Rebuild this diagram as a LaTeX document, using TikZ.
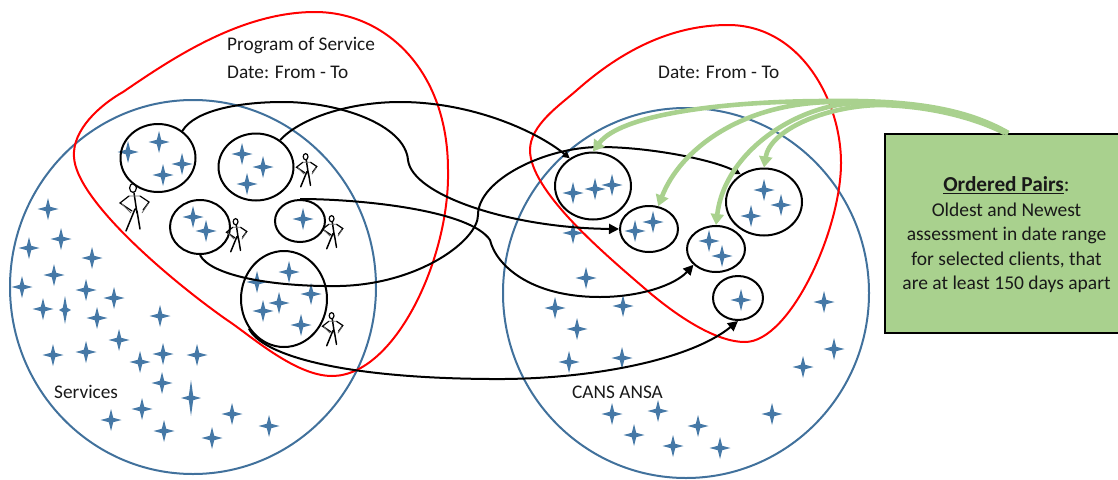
\documentclass[tikz,border=0pt]{standalone}
\usepackage{fontspec}
\setmainfont{Carlito}
\usetikzlibrary{arrows.meta,shapes.geometric}
\definecolor{setblue}{HTML}{41719C}
\definecolor{starblue}{HTML}{4578A6}
\definecolor{pairgreen}{HTML}{A9D18E}
\newcommand{\starat}[4]{\fill[starblue] (#1,#2-#4) -- (#1+2.2,#2-2.2) -- (#1+#3,#2) -- (#1+2.2,#2+2.2) -- (#1,#2+#4) -- (#1-2.2,#2+2.2) -- (#1-#3,#2) -- (#1-2.2,#2-2.2) -- cycle;}
\tikzset{
  setring/.style={draw=setblue,line width=2pt,ellipse,inner sep=0pt},
  redline/.style={draw=red,line width=2pt},
  group/.style={draw=black,line width=2pt,ellipse,inner sep=0pt},
  link/.style={draw=black,line width=2pt},
  bigtip/.style={-{Triangle[length=10pt,width=10pt]}},
  smalltip/.style={-{Triangle[length=7pt,width=7pt]}},
  greenlink/.style={draw=pairgreen,line width=4.6pt,-{Triangle[length=11pt,width=13pt]}},
  label/.style={font=\fontsize{19.3}{23}\selectfont,anchor=west,inner sep=0pt,text=black!90},
  person/.pic={
    \draw[black,line width=1.2pt,line cap=round] (-2,-19) circle[x radius=3.4,y radius=4.4];
    \draw[black,line width=1.5pt,line cap=round] (-1,-14) -- (2,6) (0,2) -- (-9,24) (2,4) -- (5,22);
    \draw[black,line width=1.2pt,line cap=round] (-6,-11) -- (-15,-4) -- (-3,4);
    \draw[black,line width=1.2pt,line cap=round] (5,-11) -- (14,-5) -- (8,3);
    \draw[black!60,line width=.8pt] (-6,-11) -- (5,-11) (-13,-3) -- (-4,6) (13,-3) -- (7,6);
  }
}
\begin{document}
\begin{tikzpicture}[x=1pt,y=-1pt]
\useasboundingbox (0,0) rectangle (1118,479);
% large sets
\node[setring,minimum width=366pt,minimum height=374pt] (services) at (193,287) {};
\node[setring,minimum width=366pt,minimum height=370pt] (cans) at (686,293) {};
% stars outside groups, left
\foreach \p/\q in {48/209,61/239,29/248,92/258,54/275,22/287,86/290,114/298,43/309,97/318,160/316,119/340,53/355,86/352,140/362,163/354,197/355,162/383,111/420,142/409,232/414,269/426,164/431,212/438}{\starat{\p}{\q}{10.5}{11}}
\starat{65}{310}{6}{14}
\starat{191}{398}{10}{18}
% stars outside groups, right
\foreach \p/\q in {573/233,586/278,555/308,623/306,577/329,569/362,622/358,824/302,834/349,803/367,612/414,658/411,634/435,698/426,673/446,720/448,772/414}{\starat{\p}{\q}{10.5}{11}}
% stars in groups, left
\foreach \p/\q in {128/152,159/142,182/164,163/175,242/154,263/167,247/184,193/217,206/231,303/219,257/282,289/272,311/294,279/303,263/311,301/325}{\starat{\p}{\q}{10.5}{11}}
% stars in groups, right
\foreach \p/\q in {573/193,595/189,612/185,635/231,653/222,709/241,722/256,764/190,781/205,751/216,741/300}{\starat{\p}{\q}{10.5}{11}}
% red regions
\draw[redline] (74,157) .. controls (72,130) and (100,105) .. (123,92) .. controls (170,60) and (240,12) .. (315,12) .. controls (385,12) and (448,70) .. (448,170) .. controls (450,258) and (395,376) .. (332,376) .. controls (295,376) and (250,335) .. (227,320) .. controls (170,280) and (76,200) .. (74,157) -- cycle;
\draw[redline] (530,150) .. controls (530,125) and (560,105) .. (577,90) .. controls (620,52) and (670,25) .. (728,25) .. controls (800,25) and (841,100) .. (841,163) .. controls (841,230) and (790,342) .. (745,342) .. controls (715,342) and (675,315) .. (643,287) .. controls (600,250) and (530,190) .. (530,150) -- cycle;
% groups
\node[group,minimum width=75pt,minimum height=68pt] (ga) at (158,158) {};
\node[group,minimum width=75pt,minimum height=67pt] (gb) at (256,167) {};
\node[group,minimum width=60pt,minimum height=54pt] (gc) at (200,227) {};
\node[group,minimum width=50pt,minimum height=42pt] (gd) at (300,221) {};
\node[group,minimum width=86pt,minimum height=96pt] (ge) at (284,299) {};
\node[group,minimum width=76pt,minimum height=67pt] (gf) at (593,186) {};
\node[group,minimum width=58pt,minimum height=46pt] (gg) at (649,229) {};
\node[group,minimum width=58pt,minimum height=46pt] (gh) at (716,249) {};
\node[group,minimum width=76pt,minimum height=67pt] (gi) at (764,202) {};
\node[group,minimum width=50pt,minimum height=44pt] (gj) at (738,298) {};
% people
\pic at (135,207) {person};
\pic[scale=.7] at (307,170) {person};
\pic[scale=.7] at (237,235) {person};
\pic[scale=.7] at (333,232) {person};
\pic[scale=.7] at (333,329) {person};
% black connectors
\draw[link,bigtip] (ga.48) .. controls (195,110) and (240,102) .. (283,102) .. controls (340,102) and (405,125) .. (408,160) .. controls (412,195) and (510,228) .. (gg.west);
\draw[link,smalltip] (gb.48) .. controls (300,118) and (350,102) .. (400,102) .. controls (470,102) and (535,130) .. (gf.130);
\draw[link,bigtip] (gd.north) .. controls (360,199) and (470,210) .. (490,240) .. controls (496,265) and (530,297) .. (600,297) .. controls (640,297) and (675,285) .. (gh.215);
\draw[link,smalltip] (gc.south) .. controls (210,275) and (270,287) .. (340,286) .. controls (420,284) and (478,240) .. (478,215) .. controls (478,180) and (545,147) .. (600,147) .. controls (650,147) and (715,160) .. (gi.130);
\draw[link,bigtip] (ge.-140) .. controls (262,355) and (340,378) .. (490,379) .. controls (590,380) and (690,360) .. (gj.south);
% ordered pairs box
\node[draw=black,line width=2pt,fill=pairgreen,minimum width=243pt,minimum height=199pt,inner sep=0pt,align=center,font=\fontsize{19.5}{24.5}\selectfont,text=black!90] (pairs) at (1006.5,233.5) {\rule{0pt}{18pt}\fontsize{21.3}{24.5}\selectfont\underline{\textbf{Ordered Pairs}}:\\\fontsize{19.5}{24.5}\selectfont Oldest and Newest\\assessment in date range\\for selected clients, that\\are at least 150 days apart};
% green connectors
\draw[greenlink] ([xshift=2pt]pairs.north) .. controls (965,108) and (910,100) .. (830,101) .. controls (720,101) and (620,115) .. (gf.north);
\draw[greenlink] ([xshift=1pt]pairs.north) .. controls (965,110) and (910,102) .. (830,102) .. controls (740,104) and (680,150) .. (gg.68);
\draw[greenlink] (pairs.north) .. controls (970,113) and (920,103) .. (860,103) .. controls (800,103) and (725,150) .. (gh.north);
\draw[greenlink] ([xshift=-2pt]pairs.north) .. controls (975,118) and (930,106) .. (880,105) .. controls (825,106) and (770,130) .. (gi.north);
% labels
\node[label] (lprog) at (227,46) {Program of Service};
\node[label] (ldate) at (227,72) {Date: From - To};
\node[label] (rdate) at (658,72) {Date: From - To};
\node[label] (lserv) at (54,392) {Services};
\node[label] (lcans) at (572,392) {CANS ANSA};
\end{tikzpicture}
\end{document}
